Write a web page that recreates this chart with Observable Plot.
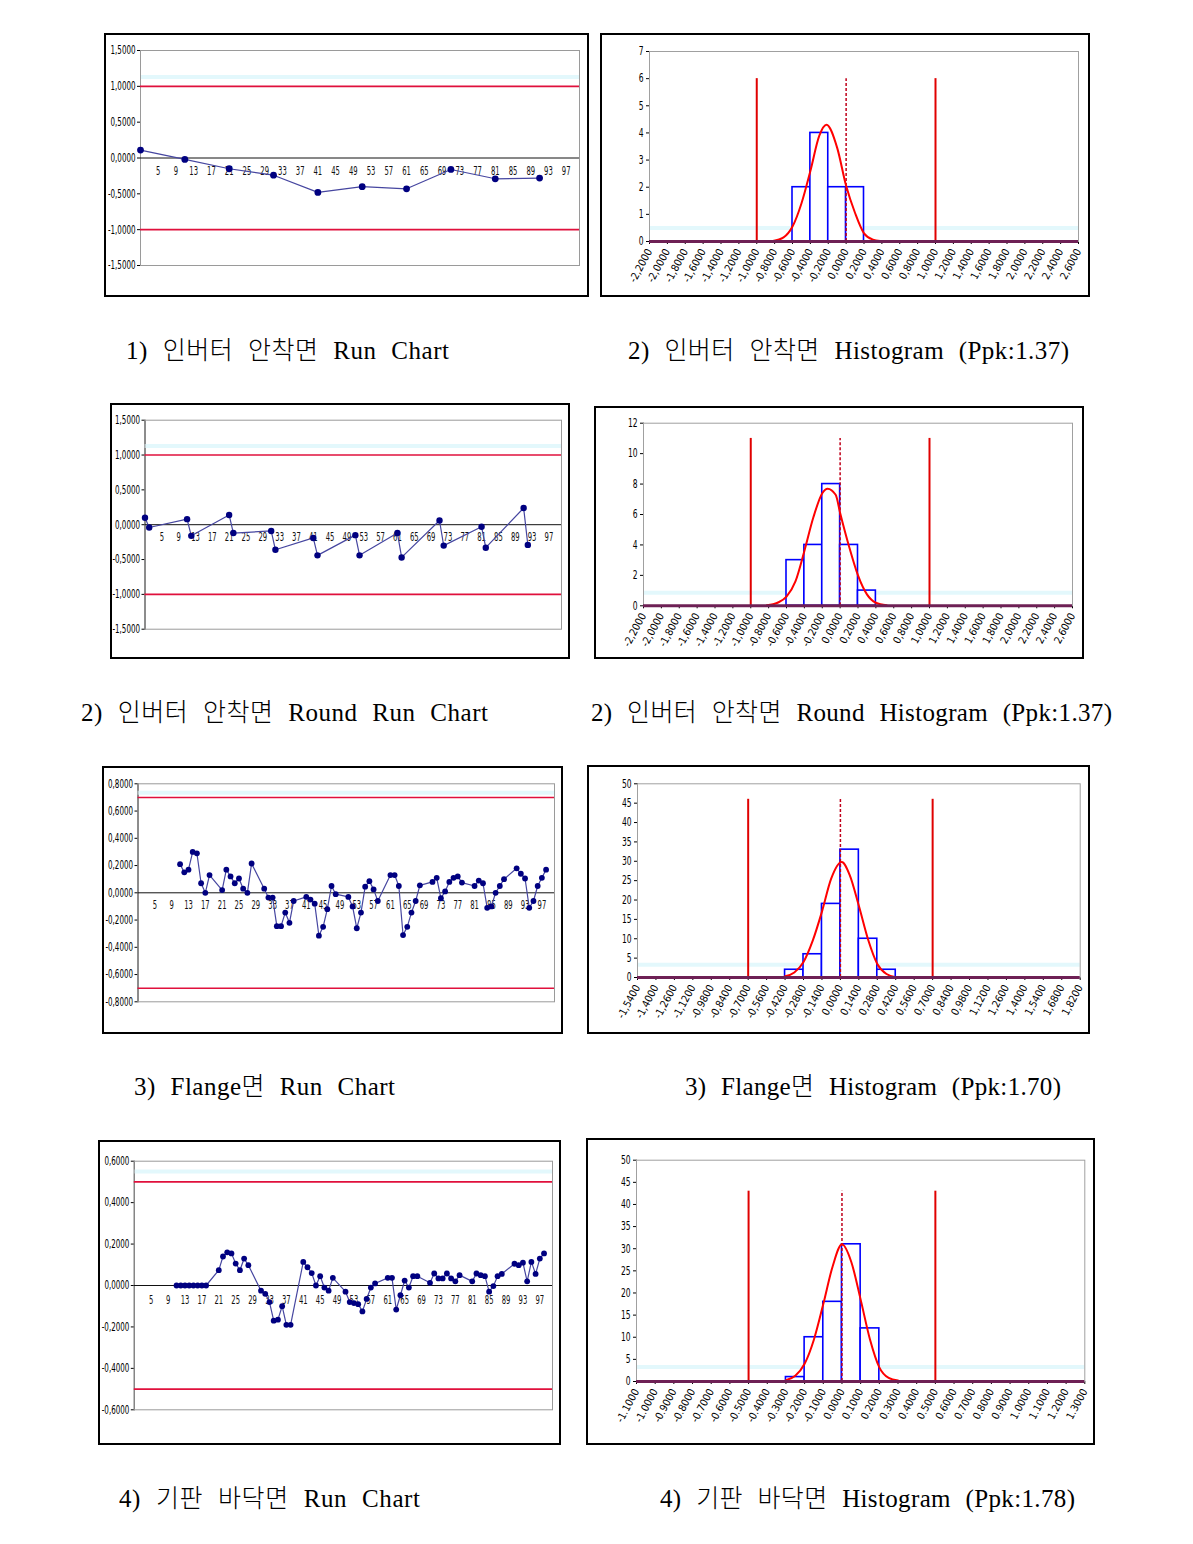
<!DOCTYPE html>
<html><head><meta charset="utf-8">
<script src="https://cdn.jsdelivr.net/npm/d3@7"></script>
<script src="https://cdn.jsdelivr.net/npm/@observablehq/plot@0.6"></script>
<style>
html,body{margin:0;padding:0;background:#fff;}
#page{position:relative;width:1193px;height:1544px;overflow:hidden;background:#fff;}
.panel{position:absolute;border:2px solid #000;box-sizing:border-box;background:#fff;overflow:hidden;}
.panel svg{display:block;}
.cap{position:absolute;white-space:nowrap;font-family:"Liberation Serif","Noto Sans CJK KR",serif;font-weight:300;font-size:25px;line-height:32px;color:#000;word-spacing:8px;}
</style></head><body><div id="page"></div>
<script>
// ---------------- DATA ----------------
// category tick labels of the run charts (sample no.)
const sampleTicks = [5,9,13,17,21,25,29,33,37,41,45,49,53,57,61,65,69,73,77,81,85,89,93,97];

// 1) 인버터 안착면 Run Chart
const run1Sample = [1,11,21,31,41,51,61,71,81,91];
const run1Value  = [0.11,-0.02,-0.15,-0.24,-0.48,-0.40,-0.43,-0.16,-0.29,-0.28];

// 2) 인버터 안착면 Round Run Chart
const run2Sample = [1,2,11,12,21,22,31,32,41,42,51,52,61,62,71,72,81,82,91,92];
const run2Value  = [0.10,-0.04,0.08,-0.16,0.14,-0.12,-0.09,-0.36,-0.19,-0.44,-0.15,-0.44,-0.12,-0.47,0.06,-0.30,-0.03,-0.33,0.24,-0.29];

// samples of charts 3) and 4)
const run34Sample = [11,12,13,14,15,16,17,18, 21,22,23,24,25,26,27,28, 31,32,33,34,35,36,37,38,
  41,42,43,44,45,46,47,48, 51,52,53,54,55,56,57,58, 61,62,63,64,65,66,67,68,
  71,72,73,74,75,76,77,78, 81,82,83,84,85,86,87,88, 91,92,93,94,95,96,97,98];

// 3) Flange면 Run Chart
const run3Value = [0.21,0.15,0.17,0.30,0.29,0.07,0.00,0.13,
  0.02,0.17,0.12,0.07,0.105,0.03,0.00,0.215,
  0.03,-0.035,-0.035,-0.245,-0.245,-0.145,-0.22,-0.06,
  -0.03,-0.05,-0.08,-0.315,-0.25,-0.12,0.05,-0.01,
  -0.03,-0.10,-0.26,-0.145,0.045,0.085,0.025,-0.06,
  0.13,0.13,0.05,-0.31,-0.25,-0.145,-0.06,0.055,
  0.08,0.11,-0.04,0.01,0.08,0.11,0.12,0.075,
  0.05,0.09,0.07,-0.11,-0.10,0.00,0.05,0.10,
  0.18,0.14,0.105,-0.11,-0.06,0.05,0.11,0.17];

// 4) 기판 바닥면 Run Chart
const run4Value = [0,0,0,0,0,0,0,0,
  0.074,0.14,0.16,0.155,0.106,0.074,0.13,0.098,
  -0.025,-0.04,-0.08,-0.17,-0.165,-0.10,-0.19,-0.19,
  0.114,0.088,0.06,0.0,0.045,-0.01,-0.025,0.037,
  -0.03,-0.08,-0.085,-0.09,-0.125,-0.065,-0.01,0.01,
  0.037,0.037,-0.116,-0.047,0.024,-0.01,0.045,0.045,
  0.013,0.058,0.034,0.034,0.058,0.034,0.02,0.05,
  0.02,0.058,0.05,0.045,-0.03,-0.003,0.045,0.056,
  0.105,0.098,0.11,0.02,0.114,0.056,0.13,0.155];

// run chart y ticks / labels, spec limits
const runYTicksA  = [1.5,1.0,0.5,0,-0.5,-1.0,-1.5];
const runYLabelsA = ["1,5000","1,0000","0,5000","0,0000","-0,5000","-1,0000","-1,5000"];
const runYTicksB  = [0.8,0.6,0.4,0.2,0,-0.2,-0.4,-0.6,-0.8];
const runYLabelsB = ["0,8000","0,6000","0,4000","0,2000","0,0000","-0,2000","-0,4000","-0,6000","-0,8000"];
const runYTicksC  = [0.6,0.4,0.2,0,-0.2,-0.4,-0.6];
const runYLabelsC = ["0,6000","0,4000","0,2000","0,0000","-0,2000","-0,4000","-0,6000"];
const specRunA = [-1.0, 1.0];
const specRunB = [-0.7, 0.7];
const specRunC = [-0.5, 0.5];
const faintRunA = [1.13], faintRunB = [0.735], faintRunC = [0.55];

// histogram x ticks / labels
const histXTicksA  = [-2.2,-2.0,-1.8,-1.6,-1.4,-1.2,-1.0,-0.8,-0.6,-0.4,-0.2,0,0.2,0.4,0.6,0.8,1.0,1.2,1.4,1.6,1.8,2.0,2.2,2.4,2.6];
const histXLabelsA = ["-2,2000","-2,0000","-1,8000","-1,6000","-1,4000","-1,2000","-1,0000","-0,8000","-0,6000","-0,4000","-0,2000","0,0000","0,2000","0,4000","0,6000","0,8000","1,0000","1,2000","1,4000","1,6000","1,8000","2,0000","2,2000","2,4000","2,6000"];
const histXTicksB  = [-1.54,-1.40,-1.26,-1.12,-0.98,-0.84,-0.70,-0.56,-0.42,-0.28,-0.14,0,0.14,0.28,0.42,0.56,0.70,0.84,0.98,1.12,1.26,1.40,1.54,1.68,1.82];
const histXLabelsB = ["-1,5400","-1,4000","-1,2600","-1,1200","-0,9800","-0,8400","-0,7000","-0,5600","-0,4200","-0,2800","-0,1400","0,0000","0,1400","0,2800","0,4200","0,5600","0,7000","0,8400","0,9800","1,1200","1,2600","1,4000","1,5400","1,6800","1,8200"];
const histXTicksC  = [-1.1,-1.0,-0.9,-0.8,-0.7,-0.6,-0.5,-0.4,-0.3,-0.2,-0.1,0,0.1,0.2,0.3,0.4,0.5,0.6,0.7,0.8,0.9,1.0,1.1,1.2,1.3];
const histXLabelsC = ["-1.1000","-1.0000","-0.9000","-0.8000","-0.7000","-0.6000","-0.5000","-0.4000","-0.3000","-0.2000","-0.1000","0.0000","0.1000","0.2000","0.3000","0.4000","0.5000","0.6000","0.7000","0.8000","0.9000","1.0000","1.1000","1.2000","1.3000"];

// histogram 1 (Ppk 1.37)
const hist1Lo = [-0.6,-0.4,-0.2,0.0];
const hist1Hi = [-0.4,-0.2,0.0,0.2];
const hist1N  = [2,4,2,2];
const hist1CurveX = [-0.82,-0.7,-0.6,-0.5,-0.4,-0.3,-0.22,-0.1,0.0,0.1,0.2,0.3,0.38];
const hist1CurveY = [0.02,0.15,0.55,1.4,2.6,3.9,4.3,3.45,2.05,1.05,0.3,0.07,0.02];
const hist1YTicks = [0,1,2,3,4,5,6,7];
const hist1Spec = [-1.0,1.0], hist1Center = [0], hist1SpecH = 6, hist1Faint = [0.5];

// histogram 2 (Round, Ppk 1.37)
const hist2Lo = [-0.6,-0.4,-0.2,0.0,0.2];
const hist2Hi = [-0.4,-0.2,0.0,0.2,0.4];
const hist2N  = [3,4,8,4,1];
const hist2CurveX = [-0.82,-0.7,-0.6,-0.5,-0.4,-0.3,-0.2,-0.14,-0.05,0.0,0.1,0.2,0.3,0.4,0.52];
const hist2CurveY = [0.03,0.2,0.6,1.6,3.6,5.8,7.4,7.7,7.3,6.1,3.9,2.0,0.75,0.2,0.03];
const hist2YTicks = [0,2,4,6,8,10,12];
const hist2Spec = [-1.0,1.0], hist2Center = [0], hist2SpecH = 11, hist2Faint = [0.85];

// histogram 3 (Flange, Ppk 1.70)
const hist3Lo = [-0.42,-0.28,-0.14,0.0,0.14,0.28];
const hist3Hi = [-0.28,-0.14,0.0,0.14,0.28,0.42];
const hist3N  = [2,6,19,33,10,2];
const hist3CurveX = [-0.42,-0.35,-0.28,-0.21,-0.14,-0.07,0.01,0.07,0.14,0.21,0.28,0.35,0.42];
const hist3CurveY = [0.3,1.3,4.0,9.5,17.0,25.5,29.8,26.5,18.5,9.8,3.5,0.9,0.1];
const hist3YTicks = [0,5,10,15,20,25,30,35,40,45,50];
const hist3Spec = [-0.7,0.7], hist3Center = [0], hist3SpecH = 46, hist3Faint = [3.3];

// histogram 4 (기판 바닥면, Ppk 1.78)
const hist4Lo = [-0.3,-0.2,-0.1,0.0,0.1];
const hist4Hi = [-0.2,-0.1,0.0,0.1,0.2];
const hist4N  = [1,10,18,31,12];
const hist4CurveX = [-0.3,-0.25,-0.2,-0.15,-0.1,-0.05,0,0.05,0.1,0.15,0.2,0.25,0.3];
const hist4CurveY = [0.3,1.3,4.0,9.5,17.5,26,31,27,18.5,9.5,3.2,0.8,0.2];
const hist4YTicks = [0,5,10,15,20,25,30,35,40,45,50];
const hist4Spec = [-0.5,0.5], hist4Center = [0], hist4SpecH = 43, hist4Faint = [3.3];

// captions
const captionTexts = [
  "1) 인버터 안착면 Run Chart",
  "2) 인버터 안착면 Histogram (Ppk:1.37)",
  "2) 인버터 안착면 Round Run Chart",
  "2) 인버터 안착면 Round Histogram (Ppk:1.37)",
  "3) Flange면 Run Chart",
  "3) Flange면 Histogram (Ppk:1.70)",
  "4) 기판 바닥면 Run Chart",
  "4) 기판 바닥면 Histogram (Ppk:1.78)"
];

// ---------------- LAYOUT ----------------
const panelLayout = {
  run1:  {left:104, top:33,   w:485, h:264, ml:34,   mr:8,   mt:15,   mb:30},
  hist1: {left:600, top:33,   w:490, h:264, ml:47,   mr:10,  mt:16,   mb:54},
  run2:  {left:110, top:403,  w:460, h:256, ml:32.5, mr:7,   mt:14.7, mb:28.3},
  hist2: {left:594, top:406,  w:490, h:253, ml:47,   mr:10,  mt:14.7, mb:51.7},
  run3:  {left:102, top:766,  w:461, h:268, ml:33.5, mr:7,   mt:15.3, mb:30.7},
  hist3: {left:587, top:765,  w:503, h:269, ml:48,   mr:8.3, mt:16.3, mb:55},
  run4:  {left:98,  top:1140, w:463, h:305, ml:33.8, mr:7,   mt:18.7, mb:33.7},
  hist4: {left:586, top:1138, w:509, h:307, ml:48,   mr:8.7, mt:19.7, mb:62}
};
const captionLayout = [
  {x0:126, x1:449,  cy:351},
  {x0:628, x1:1069, cy:351},
  {x0:81,  x1:488,  cy:713},
  {x0:591, x1:1112, cy:713},
  {x0:134, x1:395,  cy:1087},
  {x0:685, x1:1061, cy:1087},
  {x0:119, x1:420,  cy:1499},
  {x0:660, x1:1075, cy:1499}
];

const AXFONT = '"DejaVu Sans Condensed","Liberation Sans Narrow",sans-serif';
const page = document.getElementById("page");

function mount(L, svg) {
  const d = document.createElement("div");
  d.className = "panel";
  d.style.left = L.left + "px"; d.style.top = L.top + "px";
  d.style.width = L.w + "px"; d.style.height = L.h + "px";
  d.append(svg);
  page.append(d);
  return svg;
}

// narrow the tick-label glyphs like the condensed chart font of the original
function squeeze(svg, factor, fontSize, keep) {
  svg.querySelectorAll("text").forEach(t => {
    if (keep && !keep(t.textContent)) return;
    if (t.querySelector("tspan")) return;
    if (fontSize) t.setAttribute("font-size", fontSize);
    const len = t.getComputedTextLength();
    if (len > 0) {
      t.setAttribute("textLength", len * factor);
      t.setAttribute("lengthAdjust", "spacingAndGlyphs");
    }
  });
}

function runChart(L, cfg) {
  const data = cfg.sample.map((s, i) => ({s, v: cfg.value[i]}));
  const yt = cfg.yTicks;
  return Plot.plot({
    width: L.w - 4, height: L.h - 4,
    marginLeft: L.ml, marginRight: L.mr, marginTop: L.mt, marginBottom: L.mb,
    style: {fontFamily: AXFONT, fontSize: "12px", background: "white", color: "#000", overflow: "visible"},
    x: {domain: [1, 100], axis: null},
    y: {domain: [d3.min(yt), d3.max(yt)], ticks: yt, tickFormat: d => cfg.yLabels[yt.indexOf(d)],
        tickSize: 3, tickPadding: 2, line: true, label: null},
    marks: [
      Plot.ruleY(cfg.faint, {stroke: "#e3f8fc", strokeWidth: 4}),
      Plot.frame({stroke: "#9a9a9a"}),
      Plot.ruleY(cfg.spec, {stroke: "#e0103c", strokeWidth: 1.6}),
      Plot.ruleY([0], {stroke: "#111", strokeWidth: 1}),
      Plot.text(sampleTicks, {x: d => d, y: () => 0, text: d => String(d), dy: cfg.labelDy, fontSize: 11.5, fill: "#111"}),
      Plot.line(data, {x: "s", y: "v", stroke: "#4646a0", strokeWidth: 1.2}),
      Plot.dot(data, {x: "s", y: "v", r: cfg.r, fill: "#000080", stroke: "none"})
    ]
  });
}

function histChart(L, cfg) {
  const bars = cfg.lo.map((lo, i) => ({lo, hi: cfg.hi[i], n: cfg.n[i]}));
  const curve = cfg.cx.map((x, i) => ({x, y: cfg.cy[i]}));
  const xt = cfg.xTicks, yt = cfg.yTicks;
  return Plot.plot({
    width: L.w - 4, height: L.h - 4,
    marginLeft: L.ml, marginRight: L.mr, marginTop: L.mt, marginBottom: L.mb,
    style: {fontFamily: AXFONT, fontSize: "10.5px", background: "white", color: "#000", overflow: "visible"},
    x: {domain: [xt[0], xt[xt.length - 1]], ticks: xt, tickFormat: d => cfg.xLabels[xt.indexOf(d)],
        tickRotate: -62, tickSize: 3, tickPadding: 5, label: null},
    y: {domain: [0, yt[yt.length - 1]], ticks: yt, tickFormat: d => String(d),
        tickSize: 3, tickPadding: 3, line: true, label: null},
    marks: [
      Plot.ruleY(cfg.faint, {stroke: "#e3f8fc", strokeWidth: 4}),
      Plot.frame({stroke: "#a0a0a0"}),
      Plot.rect(bars, {x1: "lo", x2: "hi", y1: () => 0, y2: "n", fill: "white", stroke: "#0000ff", strokeWidth: 1.6}),
      Plot.ruleX(cfg.spec, {y1: () => 0, y2: () => cfg.specH, stroke: "#e00000", strokeWidth: 2}),
      Plot.ruleX(cfg.center, {y1: () => 0, y2: () => cfg.specH, stroke: "#c0001a", strokeWidth: 1.5, strokeDasharray: "3,2"}),
      Plot.line(curve, {x: "x", y: "y", curve: "monotone-x", stroke: "#ff0000", strokeWidth: 2}),
      Plot.ruleY([0], {stroke: "#6e2055", strokeWidth: 3})
    ]
  });
}

const runSvgs = [
  mount(panelLayout.run1, runChart(panelLayout.run1, {sample: run1Sample, value: run1Value, yTicks: runYTicksA, yLabels: runYLabelsA, spec: specRunA, faint: faintRunA, labelDy: 13, r: 3.4})),
  mount(panelLayout.run2, runChart(panelLayout.run2, {sample: run2Sample, value: run2Value, yTicks: runYTicksA, yLabels: runYLabelsA, spec: specRunA, faint: faintRunA, labelDy: 13, r: 3.2})),
  mount(panelLayout.run3, runChart(panelLayout.run3, {sample: run34Sample, value: run3Value, yTicks: runYTicksB, yLabels: runYLabelsB, spec: specRunB, faint: faintRunB, labelDy: 13, r: 2.9})),
  mount(panelLayout.run4, runChart(panelLayout.run4, {sample: run34Sample, value: run4Value, yTicks: runYTicksC, yLabels: runYLabelsC, spec: specRunC, faint: faintRunC, labelDy: 15, r: 2.9}))
];
const histSvgs = [
  mount(panelLayout.hist1, histChart(panelLayout.hist1, {lo: hist1Lo, hi: hist1Hi, n: hist1N, cx: hist1CurveX, cy: hist1CurveY, xTicks: histXTicksA, xLabels: histXLabelsA, yTicks: hist1YTicks, spec: hist1Spec, center: hist1Center, specH: hist1SpecH, faint: hist1Faint})),
  mount(panelLayout.hist2, histChart(panelLayout.hist2, {lo: hist2Lo, hi: hist2Hi, n: hist2N, cx: hist2CurveX, cy: hist2CurveY, xTicks: histXTicksA, xLabels: histXLabelsA, yTicks: hist2YTicks, spec: hist2Spec, center: hist2Center, specH: hist2SpecH, faint: hist2Faint})),
  mount(panelLayout.hist3, histChart(panelLayout.hist3, {lo: hist3Lo, hi: hist3Hi, n: hist3N, cx: hist3CurveX, cy: hist3CurveY, xTicks: histXTicksB, xLabels: histXLabelsB, yTicks: hist3YTicks, spec: hist3Spec, center: hist3Center, specH: hist3SpecH, faint: hist3Faint})),
  mount(panelLayout.hist4, histChart(panelLayout.hist4, {lo: hist4Lo, hi: hist4Hi, n: hist4N, cx: hist4CurveX, cy: hist4CurveY, xTicks: histXTicksC, xLabels: histXLabelsC, yTicks: hist4YTicks, spec: hist4Spec, center: hist4Center, specH: hist4SpecH, faint: hist4Faint}))
];
runSvgs.forEach(s => squeeze(s, 0.66));
histSvgs.forEach(s => squeeze(s, 0.7, 12, txt => !/[.,]/.test(txt)));

captionTexts.forEach((t, i) => {
  const L = captionLayout[i];
  const d = document.createElement("div");
  d.className = "cap";
  d.textContent = t;
  d.style.left = L.x0 + "px";
  d.style.top = (L.cy - 16) + "px";
  page.append(d);
  const w0 = d.getBoundingClientRect().width;
  const n = Array.from(t).length;
  d.style.letterSpacing = ((L.x1 - L.x0 - w0) / (n - 1)) + "px";
});
</script></body></html>
